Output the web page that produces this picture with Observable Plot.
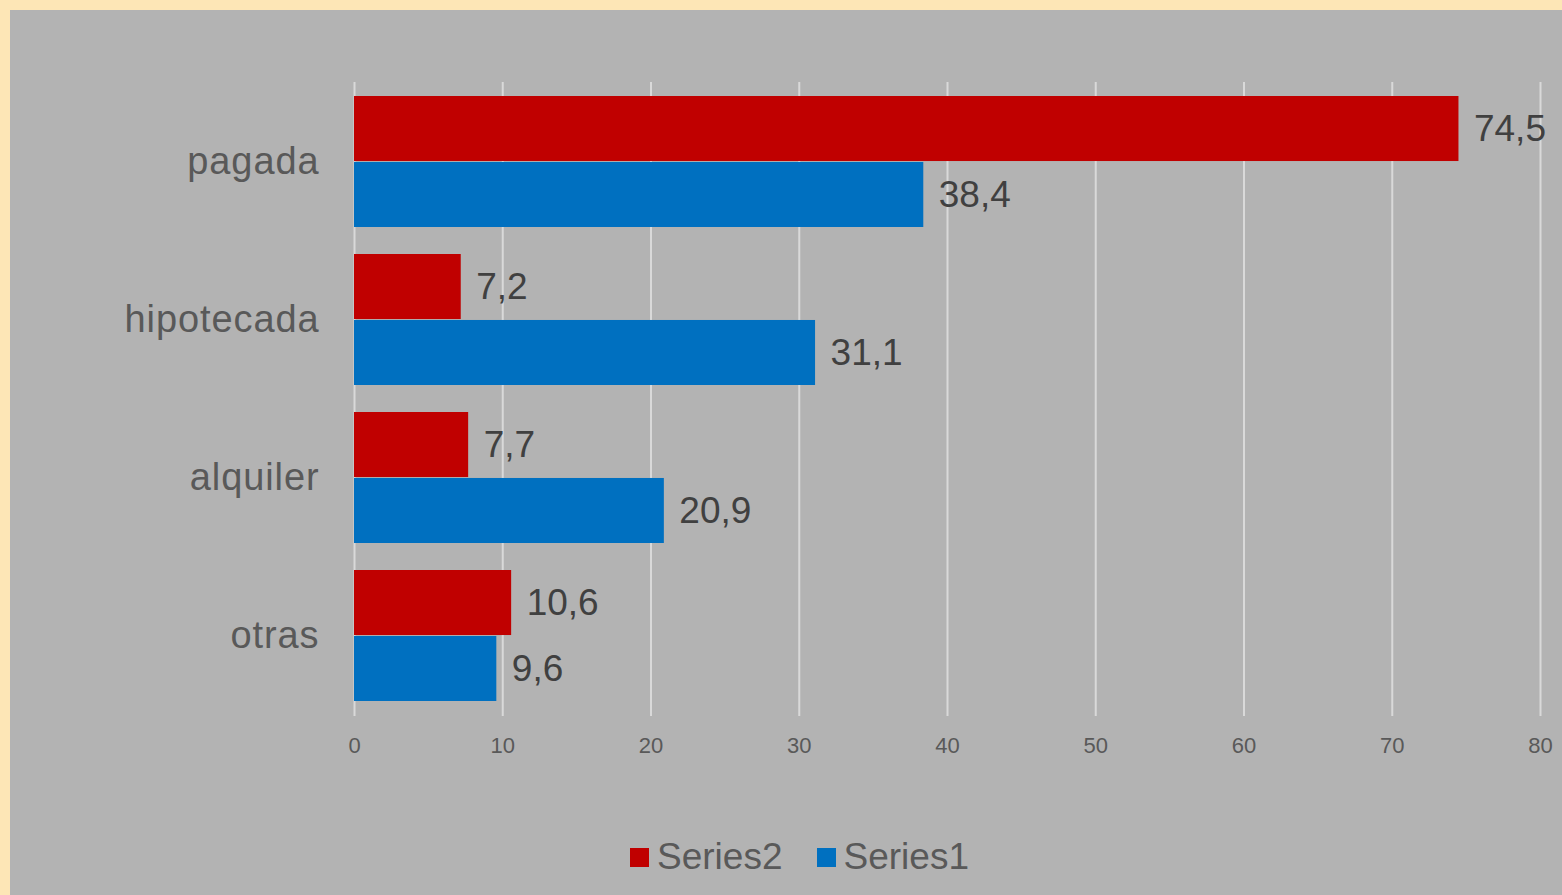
<!DOCTYPE html>
<html>
<head>
<meta charset="utf-8">
<script src="https://cdn.jsdelivr.net/npm/d3@7"></script>
<script src="https://cdn.jsdelivr.net/npm/@observablehq/plot@0.6"></script>
<style>
  html, body { margin: 0; padding: 0; }
  body { background: #FDE6B6; width: 1562px; height: 895px; overflow: hidden; }
  #panel {
    position: absolute; left: 10px; top: 10px; width: 1552px; height: 885px;
    background: #B3B3B3; font-family: "Liberation Sans", Arial, sans-serif;
  }
  #chart svg { display: block; }
  #chart g[aria-label="y-axis tick label"] text { letter-spacing: 0.9px; }
  #legend {
    position: absolute; top: 825px; left: 0; width: 1552px; height: 44px;
    display: flex; justify-content: center; align-items: center;
    font-size: 37px; color: #595959; padding-left: 27px; box-sizing: border-box;
  }
  .item { display: flex; align-items: center; margin: 0 17px; }
  .swatch { width: 19px; height: 19px; margin-right: 8px; }
</style>
</head>
<body>
<div id="panel">
  <div id="chart"></div>
  <div id="legend"></div>
</div>
<script>
// Housing tenure, two series per category
const categories = ["pagada", "hipotecada", "alquiler", "otras"];
const series2 = [74.5, 7.2, 7.7, 10.6];
const series1 = [38.4, 31.1, 20.9, 9.6];
const seriesNames = ["Series2", "Series1"];
const seriesColors = ["#C00000", "#0070C0"];
const xTicks = [0, 10, 20, 30, 40, 50, 60, 70, 80];

const rows2 = categories.map((c, i) => ({category: c, value: series2[i]}));
const rows1 = categories.map((c, i) => ({category: c, value: series1[i]}));

const W = 1552, H = 800;
const margin = {top: 72, right: 22, bottom: 94, left: 344};
const padInner = 0.17, padOuter = 0.079;
// band geometry: each category band holds the two series stacked
const step = (H - margin.top - margin.bottom) / (categories.length - padInner + 2 * padOuter);
const band = step * (1 - padInner);
const half = band / 2;

const fmt = v => v.toFixed(1).replace(".", ",");
const font = "Liberation Sans, Arial, sans-serif";

const chart = Plot.plot({
  width: W,
  height: H,
  marginTop: margin.top,
  marginRight: margin.right,
  marginBottom: margin.bottom,
  marginLeft: margin.left,
  style: {background: "transparent", color: "#595959", fontFamily: font},
  x: {domain: [0, 80], axis: null},
  y: {domain: categories, paddingInner: padInner, paddingOuter: padOuter, axis: null},
  marks: [
    Plot.ruleX(xTicks, {stroke: "#D9D9D9", strokeWidth: 2}),
    Plot.barX(rows2, {y: "category", x: "value", fill: seriesColors[0], insetBottom: half}),
    Plot.barX(rows1, {y: "category", x: "value", fill: seriesColors[1], insetTop: half}),
    Plot.text(rows2, {y: "category", x: "value", text: d => fmt(d.value), dy: -half / 2, dx: 15,
      textAnchor: "start", fill: "#404040", fontSize: 37}),
    Plot.text(rows1, {y: "category", x: "value", text: d => fmt(d.value), dy: half / 2, dx: 15,
      textAnchor: "start", fill: "#404040", fontSize: 37}),
    Plot.axisX({ticks: xTicks, tickSize: 0, tickPadding: 21, fontSize: 22, label: null, fill: "#595959"}),
    Plot.axisY({tickSize: 0, tickPadding: 35, fontSize: 38, label: null, fill: "#595959"})
  ]
});
document.getElementById("chart").appendChild(chart);

const legend = document.getElementById("legend");
seriesNames.forEach((name, i) => {
  const item = document.createElement("div");
  item.className = "item";
  const sw = document.createElement("span");
  sw.className = "swatch";
  sw.style.background = seriesColors[i];
  const label = document.createElement("span");
  label.textContent = name;
  item.appendChild(sw);
  item.appendChild(label);
  legend.appendChild(item);
});
</script>
</body>
</html>
